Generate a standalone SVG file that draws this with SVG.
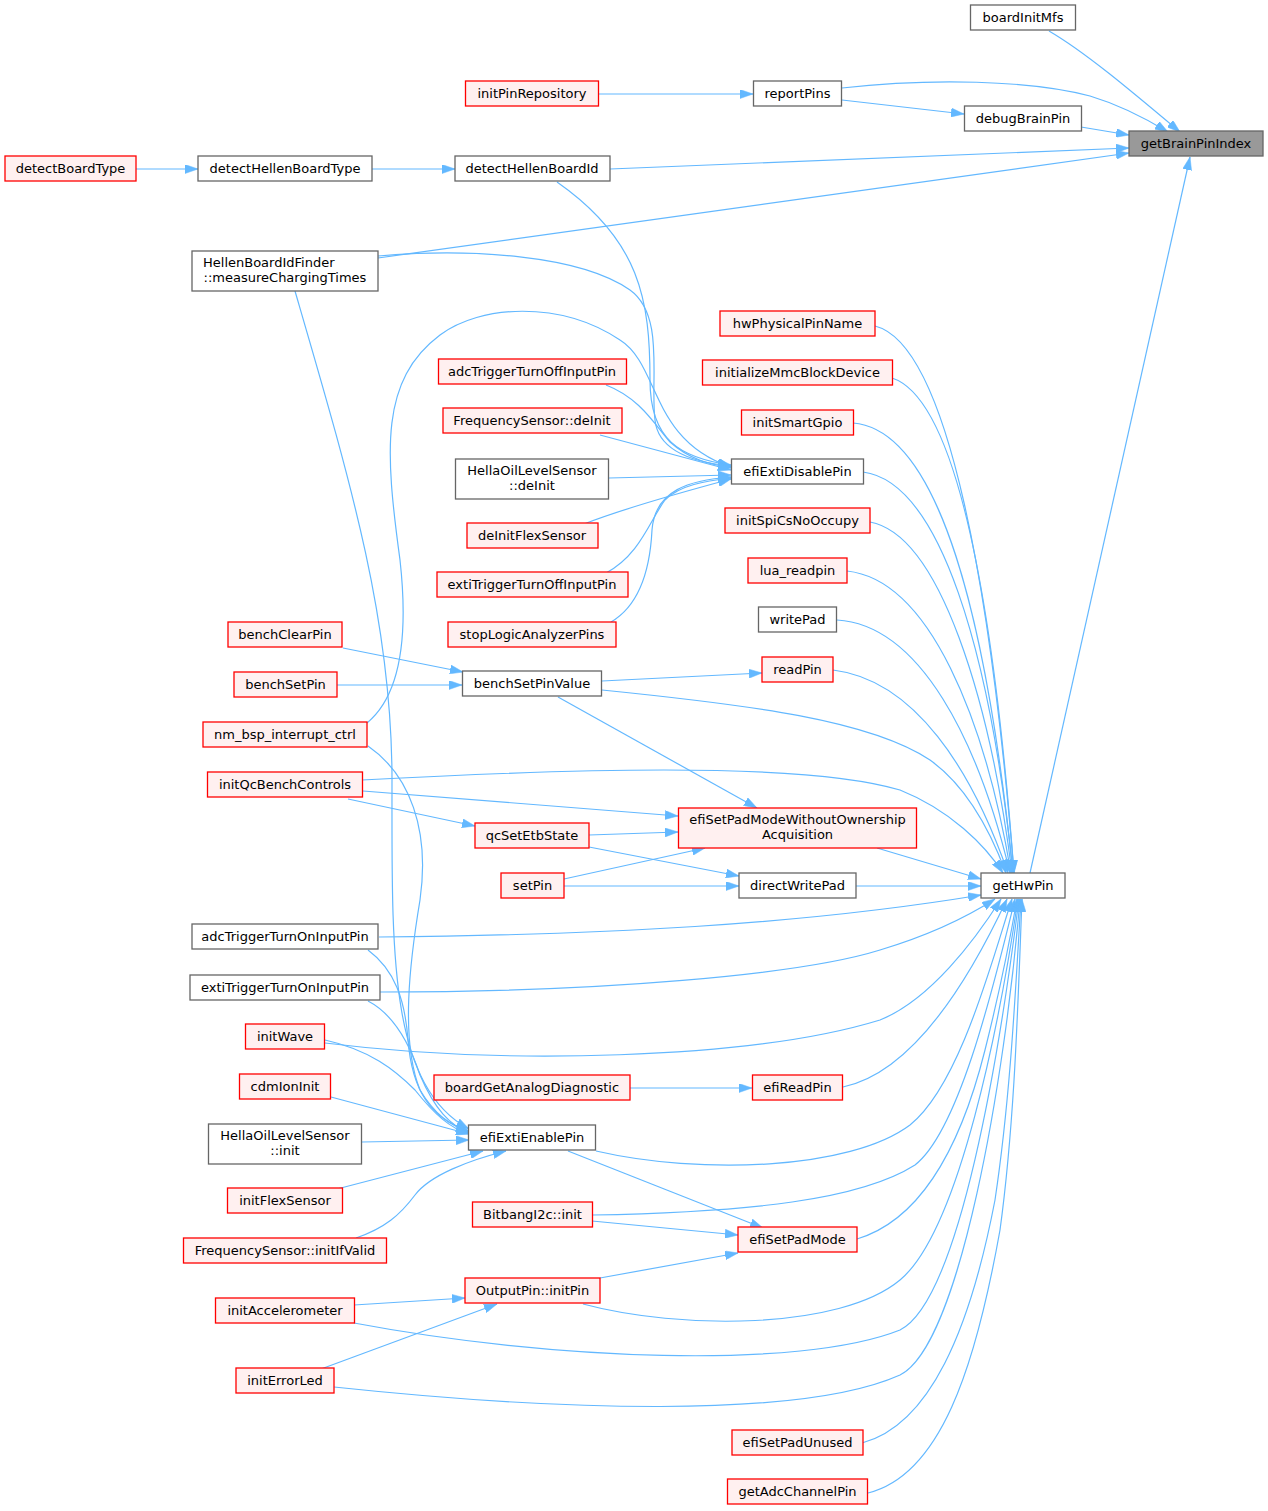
<svg xmlns="http://www.w3.org/2000/svg" width="1268" height="1511" viewBox="0 0 1268 1511">
<style>
.n rect{fill:#ffffff;stroke:#666666;stroke-width:1.3}
.r rect{fill:#fff0f0;stroke:#ff0000;stroke-width:1.3}
.g rect{fill:#999999;stroke:#666666;stroke-width:1.3}
text{font-family:"DejaVu Sans","Noto Sans",sans-serif;font-size:13px;fill:#000000;text-anchor:middle}
text.s{text-anchor:start}
#edges path{fill:none;stroke:#63b8ff;stroke-width:1.2;marker-end:url(#ah)}
</style>
<defs>
<marker id="ah" viewBox="0 0 13 9" refX="13" refY="4.5" markerWidth="13" markerHeight="9" markerUnits="userSpaceOnUse" orient="auto">
<path d="M0,0 L13,4.5 L0,9 z" fill="#63b8ff" stroke="#63b8ff" stroke-width="0.5"/>
</marker>
</defs>
<rect width="1268" height="1511" fill="#ffffff"/>
<g id="edges">
<!-- into getBrainPinIndex -->
<path d="M1049,31 C1085,52 1130,90 1180,132"/>
<path d="M842,88 C930,78 1030,80 1090,96 C1120,105 1145,118 1168,132"/>
<path d="M1081,127 L1129,135"/>
<path d="M610,169 L1129,148"/>
<path d="M378,258 L1129,153"/>
<path d="M1030,873 L1190,157"/>
<!-- top chain -->
<path d="M599,94 L753,94"/>
<path d="M842,100 L964,114"/>
<path d="M136,169 L198,169"/>
<path d="M372,169 L455,169"/>
<!-- into efiExtiDisablePin -->
<path d="M557,182 C640,240 650,300 650,380 C650,440 680,458 731,465"/>
<path d="M378,256 C470,248 580,255 630,290 C665,315 650,380 655,420 C658,450 690,462 731,466"/>
<path d="M367,723 C395,700 410,650 400,560 C385,450 380,380 440,335 C480,305 560,300 620,340 C660,365 650,440 731,467"/>
<path d="M606,385 C640,398 655,425 670,442 C690,460 710,464 731,468"/>
<path d="M600,435 L731,470"/>
<path d="M609,478 L731,475"/>
<path d="M584,524 C620,510 690,490 731,479"/>
<path d="M606,573 C640,555 650,520 665,500 C680,485 705,481 731,478"/>
<path d="M611,622 C640,605 650,570 652,530 C655,490 690,480 731,477"/>
<!-- into getHwPin from above -->
<path d="M875,326 C950,345 992,600 1014,873"/>
<path d="M892,378 C960,400 995,620 1014,873"/>
<path d="M853,423 C940,430 987,620 1013,873"/>
<path d="M863,472 C940,482 990,650 1013,873"/>
<path d="M870,522 C940,535 990,700 1012,873"/>
<path d="M847,571 C930,580 985,720 1011,873"/>
<path d="M837,620 C920,625 978,740 1010,873"/>
<path d="M833,670 C915,680 972,770 1008,873"/>
<path d="M602,690 C750,705 870,720 930,760 C965,785 990,830 1006,873"/>
<path d="M362,780 C550,770 800,760 900,790 C950,810 985,845 1003,873"/>
<path d="M877,848 L981,879"/>
<path d="M856,886 L981,886"/>
<!-- into getHwPin from below -->
<path d="M379,937 C600,935 800,925 981,895"/>
<path d="M380,992 C600,992 800,975 880,950 C930,935 970,915 995,899"/>
<path d="M325,1043 C500,1065 750,1060 880,1020 C930,1000 975,940 1001,899"/>
<path d="M843,1087 C900,1075 955,1010 1007,899"/>
<path d="M596,1151 C700,1175 850,1170 910,1125 C960,1085 992,960 1012,899"/>
<path d="M592,1215 C750,1212 860,1200 915,1165 C960,1130 995,980 1015,899"/>
<path d="M857,1239 C920,1220 960,1150 985,1050 C1000,990 1010,940 1017,899"/>
<path d="M583,1304 C680,1330 840,1330 900,1280 C960,1230 1000,1020 1018,899"/>
<path d="M354,1323 C550,1360 800,1370 900,1330 C960,1300 1000,1050 1019,899"/>
<path d="M334,1387 C550,1410 800,1420 900,1375 C960,1345 1005,1080 1020,899"/>
<path d="M862,1443 C930,1425 970,1330 995,1200 C1010,1100 1015,1000 1021,899"/>
<path d="M868,1493 C940,1475 975,1370 1000,1230 C1015,1120 1018,1000 1022,899"/>
<!-- middle -->
<path d="M343,648 L463,672"/>
<path d="M337,685 L462,685"/>
<path d="M602,681 L762,673"/>
<path d="M558,697 L757,808"/>
<path d="M363,791 L678,816"/>
<path d="M348,799 L475,826"/>
<path d="M589,835 L678,832"/>
<path d="M589,847 L739,876"/>
<path d="M564,879 L705,848"/>
<path d="M564,886 L739,886"/>
<path d="M630,1088 L752,1088"/>
<!-- into efiExtiEnablePin -->
<path d="M295,291 C350,480 392,620 392,780 C392,950 388,1085 469,1129"/>
<path d="M368,746 C410,775 430,830 420,900 C410,960 400,1040 420,1090 C435,1115 450,1125 469,1131"/>
<path d="M368,950 C395,970 405,1000 408,1040 C412,1090 430,1118 469,1132"/>
<path d="M368,1001 C395,1015 410,1045 420,1075 C435,1110 450,1125 469,1133"/>
<path d="M325,1040 C370,1050 395,1070 415,1090 C435,1115 450,1128 469,1134"/>
<path d="M331,1097 L469,1134"/>
<path d="M362,1142 L469,1140"/>
<path d="M337,1189 L483,1151"/>
<path d="M356,1238 C385,1228 400,1215 415,1195 C430,1175 470,1160 506,1151"/>
<!-- into efiSetPadMode / OutputPin -->
<path d="M568,1151 L763,1228"/>
<path d="M592,1221 L738,1235"/>
<path d="M600,1278 L738,1253"/>
<path d="M354,1305 L465,1298"/>
<path d="M321,1369 L497,1304"/>
</g>
<g id="getBrainPinIndex" class="g"><rect x="1129" y="131" width="134" height="25"/><text x="1196" y="148">getBrainPinIndex</text></g>
<g id="boardInitMfs" class="n"><rect x="970.5" y="5" width="105" height="25"/><text x="1023" y="22">boardInitMfs</text></g>
<g id="debugBrainPin" class="n"><rect x="964.5" y="106" width="117" height="25"/><text x="1023" y="123">debugBrainPin</text></g>
<g id="getHwPin" class="n"><rect x="981" y="873" width="84" height="25"/><text x="1023" y="890">getHwPin</text></g>
<g id="reportPins" class="n"><rect x="753.5" y="81" width="88" height="25"/><text x="797.5" y="98">reportPins</text></g>
<g id="hwPhysicalPinName" class="r"><rect x="720" y="311" width="155" height="25"/><text x="797.5" y="328">hwPhysicalPinName</text></g>
<g id="initializeMmcBlockDevice" class="r"><rect x="702.5" y="360" width="190" height="25"/><text x="797.5" y="377">initializeMmcBlockDevice</text></g>
<g id="initSmartGpio" class="r"><rect x="741.5" y="410" width="112" height="25"/><text x="797.5" y="427">initSmartGpio</text></g>
<g id="efiExtiDisablePin" class="n"><rect x="731.5" y="459" width="132" height="25"/><text x="797.5" y="476">efiExtiDisablePin</text></g>
<g id="initSpiCsNoOccupy" class="r"><rect x="725" y="508" width="145" height="25"/><text x="797.5" y="525">initSpiCsNoOccupy</text></g>
<g id="lua_readpin" class="r"><rect x="748" y="558" width="99" height="25"/><text x="797.5" y="575">lua_readpin</text></g>
<g id="writePad" class="n"><rect x="758.5" y="607" width="78" height="25"/><text x="797.5" y="624">writePad</text></g>
<g id="readPin" class="r"><rect x="762" y="657" width="71" height="25"/><text x="797.5" y="674">readPin</text></g>
<g id="efiSetPadModeWithoutOwnershipAcquisition" class="r"><rect x="678.5" y="808" width="238" height="40"/><text x="797.5" y="824">efiSetPadModeWithoutOwnership</text><text x="797.5" y="839">Acquisition</text></g>
<g id="directWritePad" class="n"><rect x="739" y="873" width="117" height="25"/><text x="797.5" y="890">directWritePad</text></g>
<g id="efiReadPin" class="r"><rect x="752.5" y="1075" width="90" height="25"/><text x="797.5" y="1092">efiReadPin</text></g>
<g id="efiSetPadMode" class="r"><rect x="738" y="1227" width="119" height="25"/><text x="797.5" y="1244">efiSetPadMode</text></g>
<g id="efiSetPadUnused" class="r"><rect x="732" y="1430" width="131" height="25"/><text x="797.5" y="1447">efiSetPadUnused</text></g>
<g id="getAdcChannelPin" class="r"><rect x="727.5" y="1479" width="140" height="25"/><text x="797.5" y="1496">getAdcChannelPin</text></g>
<g id="initPinRepository" class="r"><rect x="465.5" y="81" width="133" height="25"/><text x="532" y="98">initPinRepository</text></g>
<g id="detectHellenBoardId" class="n"><rect x="455" y="156" width="155" height="25"/><text x="532" y="173">detectHellenBoardId</text></g>
<g id="adcTriggerTurnOffInputPin" class="r"><rect x="438.5" y="359" width="188" height="25"/><text x="532" y="376">adcTriggerTurnOffInputPin</text></g>
<g id="FrequencySensor_deInit" class="r"><rect x="443" y="408" width="179" height="25"/><text x="532" y="425">FrequencySensor::deInit</text></g>
<g id="HellaOilLevelSensor_deInit" class="n"><rect x="455.5" y="459" width="153" height="40"/><text x="532" y="475">HellaOilLevelSensor</text><text x="532" y="490">::deInit</text></g>
<g id="deInitFlexSensor" class="r"><rect x="467" y="523" width="131" height="25"/><text x="532" y="540">deInitFlexSensor</text></g>
<g id="extiTriggerTurnOffInputPin" class="r"><rect x="437" y="572" width="191" height="25"/><text x="532" y="589">extiTriggerTurnOffInputPin</text></g>
<g id="stopLogicAnalyzerPins" class="r"><rect x="448" y="622" width="168" height="25"/><text x="532" y="639">stopLogicAnalyzerPins</text></g>
<g id="benchSetPinValue" class="n"><rect x="462.5" y="671" width="139" height="25"/><text x="532" y="688">benchSetPinValue</text></g>
<g id="qcSetEtbState" class="r"><rect x="475" y="823" width="114" height="25"/><text x="532" y="840">qcSetEtbState</text></g>
<g id="setPin" class="r"><rect x="501" y="873" width="63" height="25"/><text x="532.5" y="890">setPin</text></g>
<g id="boardGetAnalogDiagnostic" class="r"><rect x="434" y="1075" width="196" height="25"/><text x="532" y="1092">boardGetAnalogDiagnostic</text></g>
<g id="efiExtiEnablePin" class="n"><rect x="468.5" y="1125" width="127" height="25"/><text x="532" y="1142">efiExtiEnablePin</text></g>
<g id="BitbangI2c_init" class="r"><rect x="472.5" y="1202" width="120" height="25"/><text x="532.5" y="1219">BitbangI2c::init</text></g>
<g id="OutputPin_initPin" class="r"><rect x="465" y="1278" width="135" height="25"/><text x="532.5" y="1295">OutputPin::initPin</text></g>
<g id="detectHellenBoardType" class="n"><rect x="198" y="156" width="174" height="25"/><text x="285" y="173">detectHellenBoardType</text></g>
<g id="HellenBoardIdFinder_measureChargingTimes" class="n"><rect x="192" y="251" width="186" height="40"/><text class="s" x="203" y="267">HellenBoardIdFinder</text><text x="285" y="282">::measureChargingTimes</text></g>
<g id="benchClearPin" class="r"><rect x="228" y="622" width="114" height="25"/><text x="285" y="639">benchClearPin</text></g>
<g id="benchSetPin" class="r"><rect x="234" y="672" width="103" height="25"/><text x="285.5" y="689">benchSetPin</text></g>
<g id="nm_bsp_interrupt_ctrl" class="r"><rect x="203" y="722" width="164" height="25"/><text x="285" y="739">nm_bsp_interrupt_ctrl</text></g>
<g id="initQcBenchControls" class="r"><rect x="207.5" y="772" width="155" height="25"/><text x="285" y="789">initQcBenchControls</text></g>
<g id="adcTriggerTurnOnInputPin" class="n"><rect x="192" y="924" width="186" height="25"/><text x="285" y="941">adcTriggerTurnOnInputPin</text></g>
<g id="extiTriggerTurnOnInputPin" class="n"><rect x="190" y="975" width="190" height="25"/><text x="285" y="992">extiTriggerTurnOnInputPin</text></g>
<g id="initWave" class="r"><rect x="245.5" y="1024" width="79" height="25"/><text x="285" y="1041">initWave</text></g>
<g id="cdmIonInit" class="r"><rect x="239.5" y="1074" width="91" height="25"/><text x="285" y="1091">cdmIonInit</text></g>
<g id="HellaOilLevelSensor_init" class="n"><rect x="208.5" y="1124" width="153" height="40"/><text x="285" y="1140">HellaOilLevelSensor</text><text x="285" y="1155">::init</text></g>
<g id="initFlexSensor" class="r"><rect x="227.5" y="1188" width="115" height="25"/><text x="285" y="1205">initFlexSensor</text></g>
<g id="FrequencySensor_initIfValid" class="r"><rect x="183.5" y="1238" width="203" height="25"/><text x="285" y="1255">FrequencySensor::initIfValid</text></g>
<g id="initAccelerometer" class="r"><rect x="215.5" y="1298" width="139" height="25"/><text x="285" y="1315">initAccelerometer</text></g>
<g id="initErrorLed" class="r"><rect x="236" y="1368" width="98" height="25"/><text x="285" y="1385">initErrorLed</text></g>
<g id="detectBoardType" class="r"><rect x="5" y="156" width="131" height="25"/><text x="70.5" y="173">detectBoardType</text></g>
</svg>
